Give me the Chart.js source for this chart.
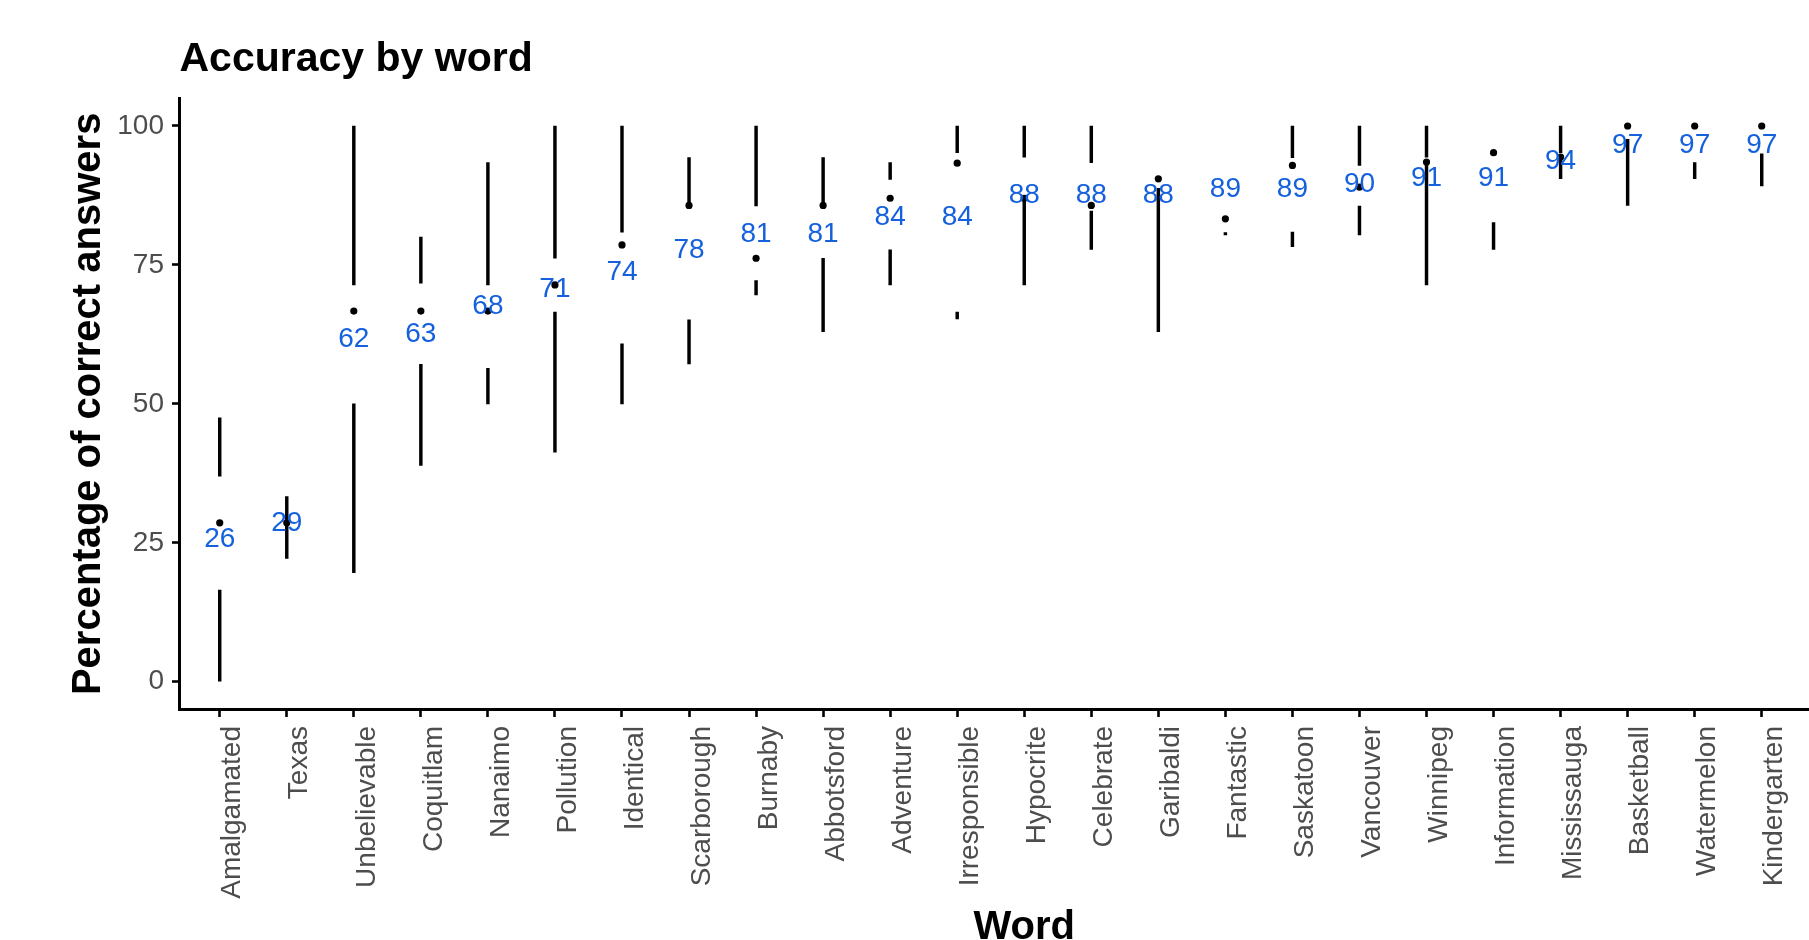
<!DOCTYPE html>
<html>
<head>
<meta charset="utf-8">
<script src="https://cdn.jsdelivr.net/npm/chart.js@4.4.1/dist/chart.umd.min.js"></script>
<style>
  html, body { margin: 0; padding: 0; background: #fff; overflow: hidden; }
  #wrap { width: 1875px; height: 940px; }
</style>
</head>
<body>
<div id="wrap"><canvas id="chart" width="1875" height="940"></canvas></div>
<script>
// Words, ordered by mean accuracy
const words = ['Amalgamated', 'Texas', 'Unbelievable', 'Coquitlam', 'Nanaimo', 'Pollution',
  'Identical', 'Scarborough', 'Burnaby', 'Abbotsford', 'Adventure', 'Irresponsible',
  'Hypocrite', 'Celebrate', 'Garibaldi', 'Fantastic', 'Saskatoon', 'Vancouver',
  'Winnipeg', 'Information', 'Mississauga', 'Basketball', 'Watermelon', 'Kindergarten'];

// Mean percentage correct (printed in blue)
const meanAccuracy = [26, 29, 62, 63, 68, 71, 74, 78, 81, 81, 84, 84,
  88, 88, 88, 89, 89, 90, 91, 91, 94, 97, 97, 97];

// Median percentage correct (black dot)
const medianAccuracy = [28.6, 28.6, 66.7, 66.7, 66.7, 71.4, 78.6, 85.7, 76.2, 85.7, 87.0, 93.3,
  87.0, 85.7, 90.5, 83.3, 92.9, 89.0, 93.5, 95.2, 94.4, 100, 100, 100];

// Lower whisker: minimum up to first quartile
const whiskerMin = [0, 22.2, 19.6, 38.9, 50, 41.3, 50, 57.2, 69.6, 63.0, 71.4, 65.3,
  71.4, 77.8, 63.0, 80.4, 78.3, 80.4, 71.4, 77.8, 90.5, 85.7, 90.5, 89.2];
const quartile1 = [16.5, 28.6, 50, 57.1, 56.4, 66.5, 60.8, 65.1, 72.2, 76.2, 77.7, 66.5,
  86.7, 84.7, 88.8, 80.8, 80.9, 85.6, 93.0, 82.6, 93.8, 97.6, 93.4, 95.0];

// Upper whisker: third quartile up to maximum (null where the box reaches the top)
const quartile3 = [37.0, 28.6, 71.4, 71.7, 71.4, 76.2, 80.9, 85.7, 85.6, 85.7, 90.4, 95.2,
  94.4, 93.4, null, null, 94.3, 92.9, 94.4, null, 95.2, null, null, null];
const whiskerMax = [47.5, 33.3, 100, 80, 93.4, 100, 100, 94.3, 100, 94.3, 93.4, 100,
  100, 100, null, null, 100, 100, 100, null, 100, null, null, null];

const yTicks = [0, 25, 50, 75, 100];

const FONT = '"Liberation Sans", Arial, Helvetica, sans-serif';
const BLUE = '#1460DD';
const GREY = '#4D4D4D';

const lowerSegments = words.map((_, i) => ({ x: i, y: [whiskerMin[i], quartile1[i]] }));
const upperSegments = words.map((_, i) =>
  quartile3[i] === null ? { x: i, y: null } : { x: i, y: [quartile3[i], whiskerMax[i]] });
const medianPoints = words.map((_, i) => ({ x: i, y: medianAccuracy[i] }));

// Blue mean labels centred on their value
const meanLabels = {
  id: 'meanLabels',
  afterDatasetsDraw(chart) {
    const { ctx, scales: { x, y } } = chart;
    ctx.save();
    ctx.font = '28px ' + FONT;
    ctx.fillStyle = BLUE;
    ctx.textAlign = 'center';
    ctx.textBaseline = 'alphabetic';
    meanAccuracy.forEach((m, i) => {
      ctx.fillText(String(m), x.getPixelForValue(i), y.getPixelForValue(m) + 10);
    });
    ctx.restore();
  }
};

new Chart(document.getElementById('chart'), {
  type: 'bar',
  data: {
    datasets: [
      {
        type: 'bar', data: lowerSegments, backgroundColor: '#000', borderWidth: 0,
        barThickness: 2.8, grouped: false, order: 2
      },
      {
        type: 'bar', data: upperSegments, backgroundColor: '#000', borderWidth: 0,
        barThickness: 2.8, grouped: false, order: 2
      },
      {
        type: 'scatter', data: medianPoints, pointRadius: 3.6, pointBackgroundColor: '#000',
        pointBorderWidth: 0, showLine: false, order: 1
      }
    ]
  },
  options: {
    responsive: false,
    animation: false,
    devicePixelRatio: 1,
    layout: { padding: { left: 0, right: 6, top: 0, bottom: 0 } },
    plugins: {
      legend: { display: false },
      tooltip: { enabled: false },
      title: {
        display: true,
        text: 'Accuracy by word',
        align: 'start',
        fullSize: false,
        color: '#000',
        font: { family: FONT, size: 41, weight: 'bold', lineHeight: 1.2 },
        padding: { top: 35, bottom: 14 }
      }
    },
    scales: {
      x: {
        type: 'linear',
        offset: false,
        min: -0.6,
        max: 24.6,
        afterBuildTicks(scale) { scale.ticks = words.map((_, i) => ({ value: i })); },
        afterFit(scale) { scale.height = 230.5; },
        grid: {
          display: true, offset: false, drawOnChartArea: false, drawTicks: true,
          tickLength: 7.5, tickColor: '#000', tickWidth: 2.6
        },
        border: { display: true, color: '#000', width: 3 },
        ticks: {
          autoSkip: false, minRotation: 90, maxRotation: 90, padding: 9, labelOffset: 13,
          color: GREY, font: { family: FONT, size: 28 },
          callback: (v) => words[v]
        },
        title: {
          display: true, text: 'Word', color: '#000',
          font: { family: FONT, size: 40, weight: 'bold', lineHeight: 0.5 },
          padding: { top: 0, bottom: 2.4 }
        }
      },
      y: {
        type: 'linear',
        min: -5,
        max: 105,
        afterBuildTicks(scale) { scale.ticks = yTicks.map(v => ({ value: v })); },
        afterFit(scale) { scale.width = 179.5; },
        grid: {
          display: true, drawOnChartArea: false, drawTicks: true,
          tickLength: 7.5, tickColor: '#000', tickWidth: 2.6
        },
        border: { display: true, color: '#000', width: 3 },
        ticks: { padding: 8, color: GREY, font: { family: FONT, size: 28 } },
        title: {
          display: true, text: 'Percentage of correct answers', color: '#000',
          font: { family: FONT, size: 40, weight: 'bold', lineHeight: 1.2 },
          padding: { top: 65, bottom: 0 }
        }
      }
    }
  },
  plugins: [meanLabels]
});
</script>
</body>
</html>
